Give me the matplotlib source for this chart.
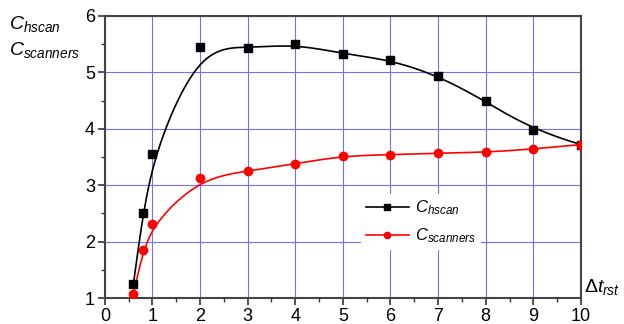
import numpy as np
import matplotlib
matplotlib.use("Agg")
import matplotlib.pyplot as plt
from matplotlib.ticker import MultipleLocator

plt.rcParams["font.family"] = ["Liberation Sans", "DejaVu Sans"]
plt.rcParams["mathtext.fontset"] = "custom"
plt.rcParams["mathtext.rm"] = "Liberation Sans"
plt.rcParams["mathtext.it"] = "Liberation Sans:italic"

# data
dt = [0.6, 0.8, 1, 2, 3, 4, 5, 6, 7, 8, 9, 10]
c_hscan = [1.25, 2.5, 3.55, 5.45, 5.43, 5.5, 5.33, 5.22, 4.94, 4.49, 3.97, 3.72]
c_scanners = [1.07, 1.85, 2.32, 3.12, 3.25, 3.38, 3.52, 3.54, 3.57, 3.58, 3.64, 3.72]


def bspline(xs, ys, k=3, num=400):
    # clamped cubic B-spline using the data points as control points
    P = np.column_stack([xs, ys])
    n = len(P)
    t = np.concatenate([np.zeros(k + 1), np.arange(1, n - k), np.full(k + 1, n - k)])
    u = np.linspace(0, n - k, num)
    u[-1] -= 1e-9

    def basis(i, d, u):
        if d == 0:
            return ((t[i] <= u) & (u < t[i + 1])).astype(float)
        out = np.zeros_like(u)
        if t[i + d] > t[i]:
            out += (u - t[i]) / (t[i + d] - t[i]) * basis(i, d - 1, u)
        if t[i + d + 1] > t[i + 1]:
            out += (t[i + d + 1] - u) / (t[i + d + 1] - t[i + 1]) * basis(i + 1, d - 1, u)
        return out

    B = np.array([basis(i, k, u) for i in range(n)])
    curve = B.T @ P
    return curve[:, 0], curve[:, 1]


fig = plt.figure(figsize=(6.24, 3.24), dpi=100)
ax = fig.add_axes([0.168, 0.080, 0.763, 0.871])

bx, by = bspline(dt, c_hscan)
rx, ry = bspline(dt, c_scanners)
ax.plot(bx, by, color="black", lw=1.2, zorder=3)
ax.plot(rx, ry, color="red", lw=1.2, zorder=3)
ax.plot(dt, c_hscan, "s", color="black", ms=5.5, zorder=4)
ax.plot(dt, c_scanners, "o", color="red", ms=6, zorder=5)

# legend handles
ax.plot([], [], "-s", color="black", lw=1.2, ms=4, label=r"$\mathit{C}_{\mathit{hscan}}$")
ax.plot([], [], "-o", color="red", lw=1.2, ms=4.5, label=r"$\mathit{C}_{\mathit{scanners}}$")
leg = ax.legend(loc="upper left", bbox_to_anchor=(0.52, 0.40), fontsize=12,
                frameon=True, fancybox=False, framealpha=1, borderpad=0.3,
                handlelength=2.6, labelspacing=0.55, handletextpad=0.35)
leg.get_frame().set_edgecolor("none")
leg.set_zorder(6)

ax.set_xlim(0, 10)
ax.set_ylim(1, 6)
ax.xaxis.set_major_locator(MultipleLocator(1))
ax.xaxis.set_minor_locator(MultipleLocator(0.5))
ax.yaxis.set_major_locator(MultipleLocator(1))
ax.yaxis.set_minor_locator(MultipleLocator(0.5))
ax.tick_params(which="major", direction="out", length=5, width=1.2, labelsize=13,
               color="#333333", pad=2)
ax.tick_params(which="minor", direction="out", length=3, width=1.0, color="#333333")
ax.grid(True, which="major", color="#7070ff", lw=0.8)
for s in ax.spines.values():
    s.set_color("#444444")
    s.set_linewidth(1.5)

fig.text(0.015, 0.925, r"$\mathit{C}_{\mathit{hscan}}$", fontsize=14, va="center")
fig.text(0.015, 0.845, r"$\mathit{C}_{\mathit{scanners}}$", fontsize=14, va="center")
fig.text(0.993, 0.115, r"$\Delta\mathit{t}_{\mathit{rst}}$", fontsize=14, va="center", ha="right")

fig.savefig("out.png", dpi=100)
